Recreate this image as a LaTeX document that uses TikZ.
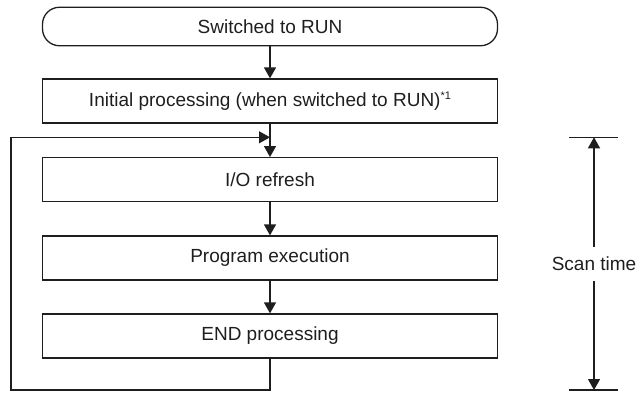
\documentclass[tikz,border=0pt]{standalone}
\usepackage{fontspec}
\setmainfont{Liberation Sans}
\usetikzlibrary{arrows.meta}
\definecolor{ink}{HTML}{1E1E1E}
\begin{document}
\begin{tikzpicture}[x=1pt,y=-1pt,
  every node/.style={font=\fontsize{19}{22}\selectfont, text=ink},
  procbox/.style={draw=ink, line width=1.3pt, rectangle, minimum width=455pt, minimum height=44pt, inner sep=0pt},
  termbox/.style={draw=ink, line width=1.3pt, rectangle, rounded corners=17pt, minimum width=455pt, minimum height=38.5pt, inner sep=0pt},
  conn/.style={draw=ink, line width=1.3pt},
  arr/.style={conn, -{Triangle[length=11pt,width=12pt]}},
  tick/.style={draw=ink, line width=1.3pt}]
\useasboundingbox (0,0) rectangle (636,392);
\node[termbox] (b1) at (270,26.5) {Switched to RUN};
\node[procbox] (b2) at (270,101) {Initial processing (when switched to RUN)\raisebox{7pt}{\fontsize{11}{11}\selectfont *1}};
\node[procbox] (b3) at (270,179.7) {I/O refresh};
\node[procbox] (b4) at (270,258) {Program execution};
\node[procbox] (b5) at (270,336) {END processing};
\draw[arr] (b1) -- (b2);
\draw[arr] (b2) -- (b3);
\draw[arr] (b3) -- (b4);
\draw[arr] (b4) -- (b5);
\coordinate (lbr) at (270,390);
\coordinate (lbl) at (11,390);
\coordinate (ltl) at (11,137.3);
\coordinate (join) at (270,137.3);
\draw[arr] (b5.south) -- (lbr) -- (lbl) -- (ltl) -- (join);
% scan time
\coordinate (st) at (594,137.3);
\coordinate (sb) at (594,390);
\draw[tick] (569,137.3) coordinate (stl) -- (618,137.3) coordinate (str);
\draw[tick] (569,390) coordinate (sbl) -- (618,390) coordinate (sbr);
\node[inner sep=0pt, minimum height=34pt] (scan) at (594,264) {Scan time};
\draw[arr] (scan.north) -- (st);
\draw[arr] (scan.south) -- (sb);
\end{tikzpicture}
\end{document}
